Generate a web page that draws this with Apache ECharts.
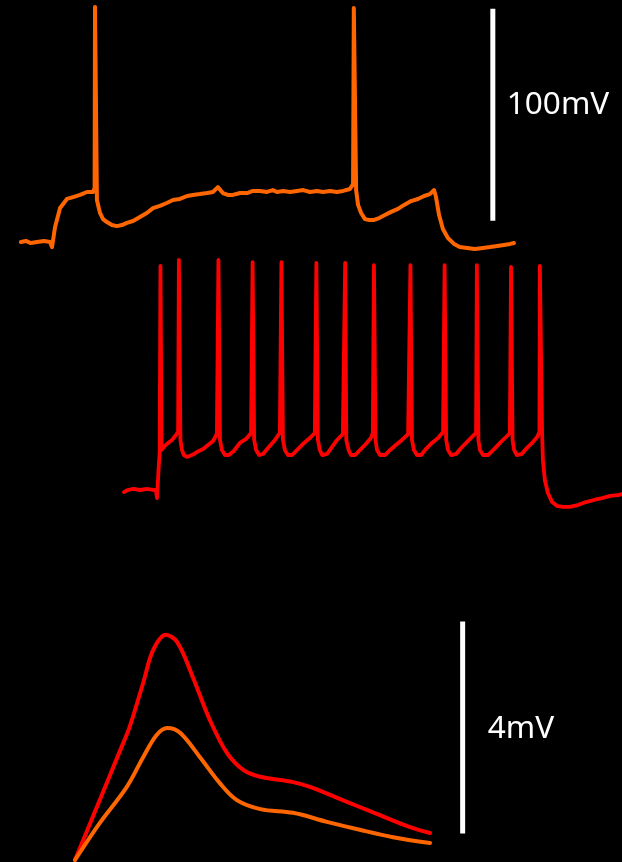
<!DOCTYPE html>
<html>
<head>
<meta charset="utf-8">
<script src="https://cdn.jsdelivr.net/npm/echarts@6/dist/echarts.min.js"></script>
<style>
  html, body { margin: 0; padding: 0; background: #000; }
  #chart { width: 622px; height: 862px; }
</style>
</head>
<body>
<div id="chart"></div>
<script>
// Whole-cell recordings: response to a current step (time in ms, membrane potential in mV)
const cellA = [
  [-81,-70],[-68,-69.5],[-55,-70.5],[-39,-70],[-21,-69.5],[-5,-70],
  [0,-72.4],[8,-62.9],[21,-54],[39,-49.7],[55,-48.8],[73,-47.8],[91,-46.4],[107,-46.4],[111,-44.5],
  [112,40.9],[115,40.9],[117,-50.2],[125,-56.3],[133,-59.2],[143,-60.6],[156,-62],[169,-62.5],[182,-62],
  [195,-61],[211,-60.1],[229,-58.2],[247,-56.3],[263,-54],[281,-53],[299,-51.6],[315,-50.2],[333,-49.7],
  [352,-48.3],[367,-47.8],[385,-47.4],[404,-46.9],[419,-46.4],[432,-44.1],[445,-46.9],[458,-47.8],
  [471,-47.8],[490,-46.9],[508,-46.9],[523,-45.9],[542,-45.9],[560,-46.4],[575,-45.5],[586,-46.4],
  [602,-45.9],[620,-46.4],[638,-45.9],[654,-45.5],[672,-46.4],[690,-45.9],[706,-46.4],[724,-45.9],
  [742,-46.4],[758,-45.9],[776,-45],[784,-42.6],
  [786,40.4],[789,40.4],[792,-45.5],[797,-52.5],[805,-56.3],[815,-59.2],[826,-59.6],[839,-59.6],
  [852,-58.7],[867,-57.3],[883,-55.8],[901,-54.4],[917,-52.5],[935,-50.7],[953,-49.7],[969,-48.3],
  [984,-47.4],[995,-45.5],
  [1000,-48.8],[1008,-57.3],[1018,-63.9],[1031,-68.1],[1047,-70.9],[1062,-72.4],[1081,-72.8],
  [1101,-73.3],[1122,-72.8],[1141,-72.4],[1159,-71.9],[1177,-71.4],[1193,-70.9],[1203,-70.5]
];

const cellB = [
  [-86,-71],[-76,-70],[-62,-69.5],[-44,-70],[-26,-69.5],[-10,-70],[-3,-70],
  [0,-73.8],[4,-60.6],[7,-52],
  [9,35.7],[10,35.7],[12,-51.1],[18,-49.7],[29,-47.8],[39,-46.4],[49,-44.1],[55,-42.6],
  [57,38.5],[60,38.5],[61,-46.4],[65,-51.1],[70,-53.5],[78,-54.4],[91,-53.5],[104,-52.1],[120,-50.7],
  [133,-48.8],[146,-46.9],[156,-43.6],
  [160,38.5],[163,38.5],[164,-46.4],[169,-51.1],[177,-53.5],[187,-53.5],[200,-51.6],[216,-47.8],
  [232,-45.9],[245,-43.1],
  [249,37.5],[251,37.5],[253,-46.4],[258,-51.1],[266,-53.5],[276,-53],[289,-50.2],[305,-46.9],[320,-43.1],
  [324,37.5],[327,37.5],[328,-46.4],[333,-51.1],[341,-53.5],[352,-53.5],[367,-50.7],[383,-47.8],
  [398,-45.5],[411,-43.1],
  [415,37.1],[418,37.1],[419,-46.4],[424,-51.1],[430,-53.5],[443,-53],[456,-49.7],[469,-46.4],[484,-43.6],
  [490,37.1],[492,37.1],[493,-46.4],[499,-51.1],[505,-53.5],[516,-53.5],[529,-51.1],[544,-48.3],
  [557,-45.5],[562,-43.1],
  [565,36.1],[568,36.1],[569,-46.4],[573,-51.1],[581,-53.5],[594,-53.5],[607,-51.1],[622,-48.8],
  [638,-46.4],[654,-43.6],
  [660,36.1],[663,36.1],[664,-46.4],[669,-51.1],[677,-53.5],[688,-53.5],[700,-50.7],[716,-47.8],
  [732,-45.5],[745,-42.6],
  [749,36.1],[751,36.1],[753,-46.4],[758,-51.1],[766,-53.5],[779,-53],[792,-50.2],[807,-47.4],
  [823,-44.5],[831,-43.1],
  [833,36.1],[836,36.1],[837,-46.4],[841,-51.1],[849,-53.5],[862,-53.5],[878,-50.7],[893,-47.8],
  [909,-45],[919,-43.1],
  [922,35.2],[924,35.2],[926,-46.4],[930,-51.1],[937,-53.5],[950,-53],[963,-50.2],[979,-47.4],
  [990,-45],[996,-42.6],
  [997,35.7],[1000,35.7],[1003,-44.1],[1005,-55.8],[1010,-65.3],[1018,-71.4],[1029,-75.7],[1042,-77.5],
  [1057,-78],[1075,-78],[1096,-77.1],[1117,-75.7],[1138,-74.7],[1159,-73.8],[1180,-72.8],[1201,-72.4],
  [1211,-71.9]
];

// Averaged EPSPs (time in ms, amplitude in mV)
const epspB = [
  [0,0],[6.8,2.21],[7.7,2.51],[9.6,3.34],[11,3.96],[12.8,4.25],[14.4,4.11],[16.6,3.45],[19,2.64],
  [21.4,2.02],[23.7,1.70],[26.1,1.57],[30.7,1.47],[33.1,1.38],[37.7,1.13],[42.5,0.87],[47.2,0.62],[50,0.51]
];
const epspA = [
  [0,0],[3.5,0.70],[7.3,1.38],[9.6,1.94],[11.5,2.36],[13,2.49],[14.8,2.40],[17.6,1.94],[20.4,1.45],
  [22.8,1.13],[26.1,0.96],[30.7,0.89],[35.5,0.72],[40.1,0.57],[44.8,0.43],[50,0.32]
];

// Scale bars: [time, from mV, to mV, label]
const barSpikes = [1148, -60, 40, '100mV'];
const barEpsp = [54.6, 0.5, 4.5, '4mV'];

const ORANGE = '#ff6600';
const RED = '#ff0000';

// Trace panels share one time / voltage scale
const TRACE = { tMin: -90, tMax: 1211, vMin: -80, vMax: 44, vRest: -70, pxMs: 0.384, pxMv: 2.12 };
const EPSP = { tMin: -2, tMax: 60, vMin: -0.03, vMax: 5, vRest: 0, pxMs: 7.1, pxMv: 53 };

function panel(cfg, x0, y0) {
  return {
    left: x0 - (0 - cfg.tMin) * cfg.pxMs,
    top: y0 - (cfg.vMax - cfg.vRest) * cfg.pxMv,
    width: (cfg.tMax - cfg.tMin) * cfg.pxMs,
    height: (cfg.vMax - cfg.vMin) * cfg.pxMv,
    containLabel: false
  };
}
function axes(cfg, i) {
  return {
    x: { type: 'value', gridIndex: i, min: cfg.tMin, max: cfg.tMax, show: false, splitLine: { show: false } },
    y: { type: 'value', gridIndex: i, min: cfg.vMin, max: cfg.vMax, show: false, splitLine: { show: false } }
  };
}
function trace(data, color, i, width, smooth) {
  return {
    type: 'line', xAxisIndex: i, yAxisIndex: i, data: data,
    showSymbol: false, symbol: 'none', smooth: smooth || false, clip: false,
    lineStyle: { color: color, width: width, join: 'round', cap: 'round' },
    silent: true
  };
}
function scaleBar(bar, i, dist, dy) {
  const [t, a, b, text] = bar;
  const mid = (a + b) / 2;
  return {
    type: 'line', xAxisIndex: i, yAxisIndex: i, clip: false,
    symbol: 'none',
    data: [
      [t, a],
      { value: [t, mid], symbol: 'circle', symbolSize: 0.01,
        label: { show: true, position: 'right', distance: dist, offset: [0, dy], formatter: text,
                 color: '#ffffff', fontSize: 31.5, fontFamily: 'Noto Sans' } },
      [t, b]
    ],
    lineStyle: { color: '#ffffff', width: 5, cap: 'butt' },
    itemStyle: { color: '#ffffff' },
    silent: true
  };
}

const gA = panel(TRACE, 52, 242);
const gB = panel(TRACE, 157, 490);
const gE = panel(EPSP, 75, 860);
const a0 = axes(TRACE, 0), a1 = axes(TRACE, 1), a2 = axes(EPSP, 2);

const chart = echarts.init(document.getElementById('chart'), null, { renderer: 'canvas' });
chart.setOption({
  backgroundColor: '#000000',
  animation: false,
  grid: [gA, gB, gE],
  xAxis: [a0.x, a1.x, a2.x],
  yAxis: [a0.y, a1.y, a2.y],
  series: [
    trace(cellA, ORANGE, 0, 4),
    trace(cellB, RED, 1, 3.8),
    trace(epspB, RED, 2, 4, 0.35),
    trace(epspA, ORANGE, 2, 4, 0.35),
    scaleBar(barSpikes, 0, 14, -9.5),
    scaleBar(barEpsp, 2, 25, 1.5)
  ]
});
</script>
</body>
</html>
